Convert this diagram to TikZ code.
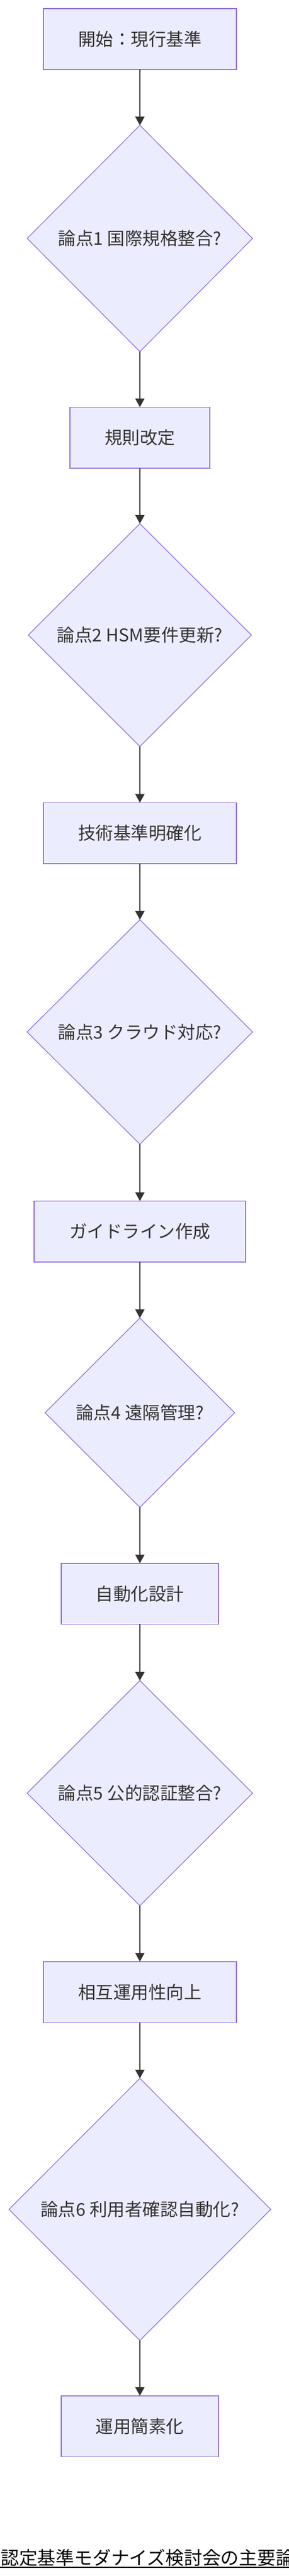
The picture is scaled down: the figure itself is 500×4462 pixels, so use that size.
\documentclass[tikz,border=0pt]{standalone}
\usepackage{fontspec}
\setmainfont{Noto Sans CJK JP}
\usetikzlibrary{shapes.geometric,arrows.meta}
\definecolor{nodefill}{HTML}{ECECFF}
\definecolor{nodeline}{HTML}{9370DB}
\definecolor{edgecol}{HTML}{333333}
\definecolor{txtcol}{HTML}{333333}
\newcommand\nodefnt{\fontsize{30.5}{36}\selectfont}
\newcommand\titlefnt{\fontsize{31.8}{38}\selectfont}
\begin{document}
\begin{tikzpicture}[x=1pt,y=-1pt,
  procbox/.style={draw=nodeline,fill=nodefill,line width=1.5pt,rectangle,inner sep=0pt,outer sep=0pt,minimum height=105.5pt,text=txtcol,font=\nodefnt},
  decbox/.style={draw=nodeline,fill=nodefill,line width=1.2pt,diamond,inner sep=0pt,outer sep=0pt},
  dectext/.style={text=txtcol,font=\nodefnt,inner sep=0pt},
  flow/.style={draw=edgecol,line width=1.5pt,-{Triangle[length=15pt,width=16pt]}}]
\useasboundingbox (0,0) rectangle (500,4462);
\fill[white] (0,0) rectangle (500,4462);

\node[procbox,minimum width=334pt] (n0) at (242,67.5) {開始：現行基準};
\node[decbox,minimum width=390pt,minimum height=392pt] (d1) at (242,413) {};
\node[dectext] (t1) at (d1.center) {論点1 国際規格整合?};
\node[procbox,minimum width=242pt] (n1) at (242,758) {規則改定};
\node[decbox,minimum width=386pt,minimum height=386pt] (d2) at (242,1100) {};
\node[dectext] (t2) at (d2.center) {論点2 HSM要件更新?};
\node[procbox,minimum width=334pt] (n2) at (242,1443) {技術基準明確化};
\node[decbox,minimum width=390pt,minimum height=389pt] (d3) at (242,1787.5) {};
\node[dectext] (t3) at (d3.center) {論点3 クラウド対応?};
\node[procbox,minimum width=366pt] (n3) at (242,2133) {ガイドライン作成};
\node[decbox,minimum width=328pt,minimum height=328pt] (d4) at (242,2447) {};
\node[dectext] (t4) at (d4.center) {論点4 遠隔管理?};
\node[procbox,minimum width=272pt] (n4) at (242,2760.5) {自動化設計};
\node[decbox,minimum width=390pt,minimum height=390pt] (d5) at (242,3106) {};
\node[dectext] (t5) at (d5.center) {論点5 公的認証整合?};
\node[procbox,minimum width=334pt] (n5) at (242,3450.5) {相互運用性向上};
\node[decbox,minimum width=453pt,minimum height=454pt] (d6) at (242,3827) {};
\node[dectext] (t6) at (d6.center) {論点6 利用者確認自動化?};
\node[procbox,minimum width=272pt] (n6) at (242,4202.5) {運用簡素化};

\draw[flow] (n0.south) -- (d1.north);
\draw[flow] (d1.south) -- (n1.north);
\draw[flow] (n1.south) -- (d2.north);
\draw[flow] (d2.south) -- (n2.north);
\draw[flow] (n2.south) -- (d3.north);
\draw[flow] (d3.south) -- (n3.north);
\draw[flow] (n3.south) -- (d4.north);
\draw[flow] (d4.south) -- (n4.north);
\draw[flow] (n4.south) -- (d5.north);
\draw[flow] (d5.south) -- (n5.north);
\draw[flow] (n5.south) -- (d6.north);
\draw[flow] (d6.south) -- (n6.north);

\begin{scope}
\clip (0,0) rectangle (500,4462);
\node[anchor=west,inner sep=0pt,font=\titlefnt,text=black] (title) at (1,4430.5) {認定基準モダナイズ検討会の主要論};
\draw[line width=2pt,black] (0,4447) -- (500,4447);
\end{scope}
\end{tikzpicture}
\end{document}
